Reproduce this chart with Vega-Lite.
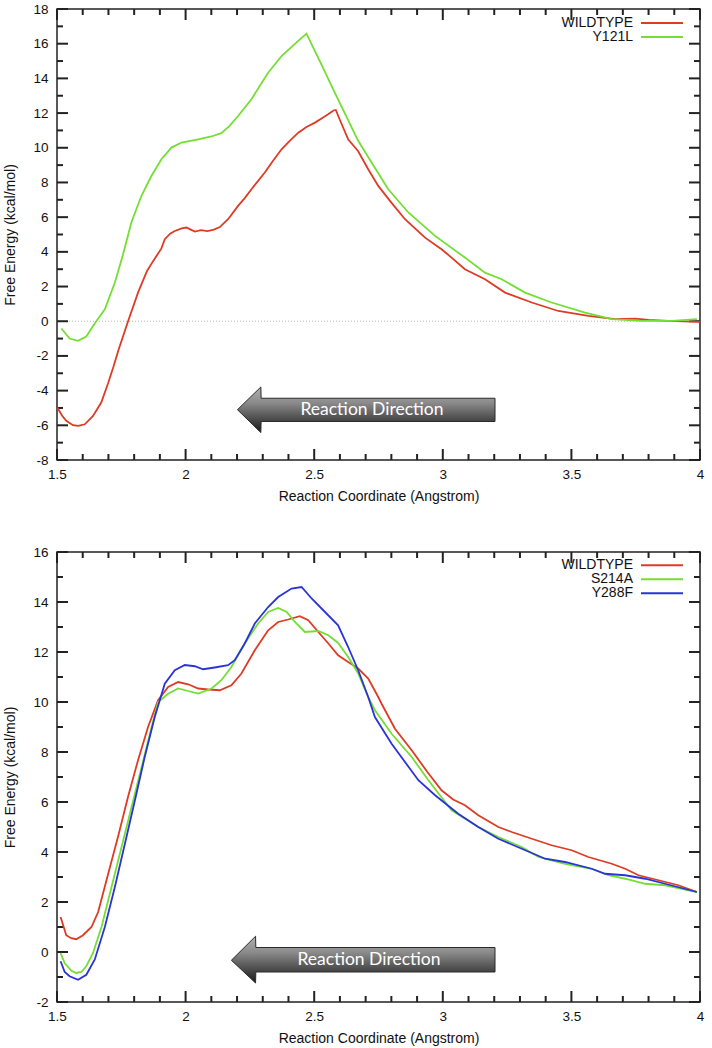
{
  "$schema": "https://vega.github.io/schema/vega-lite/v6.json",
  "background": "white",
  "padding": {"left": 3, "top": 1, "right": 5, "bottom": 2},
  "spacing": 39,
  "config": {
    "font": "Liberation Sans",
    "view": {"stroke": "#222", "strokeWidth": 1.5},
    "rule": {"color": "#222", "strokeWidth": 2, "opacity": 1},
    "axis": {
      "grid": false,
      "domain": false,
      "ticks": false,
      "labelFont": "Liberation Sans",
      "labelFontSize": 13.5,
      "labelColor": "#111",
      "labelOverlap": false,
      "labelFlush": false,
      "labelBound": false,
      "titleFont": "Liberation Sans",
      "titleFontSize": 14,
      "titleFontWeight": "normal",
      "titleColor": "#111"
    }
  },
  "datasets": {
    "xmaj": [{"v":1.5},{"v":2},{"v":2.5},{"v":3},{"v":3.5},{"v":4}],
    "xmin": [{"v":1.6},{"v":1.7},{"v":1.8},{"v":1.9},{"v":2.1},{"v":2.2},{"v":2.3},{"v":2.4},{"v":2.6},{"v":2.7},{"v":2.8},{"v":2.9},{"v":3.1},{"v":3.2},{"v":3.3},{"v":3.4},{"v":3.6},{"v":3.7},{"v":3.8},{"v":3.9}],
    "ymaj1": [{"v":-8},{"v":-6},{"v":-4},{"v":-2},{"v":0},{"v":2},{"v":4},{"v":6},{"v":8},{"v":10},{"v":12},{"v":14},{"v":16},{"v":18}],
    "ymin1": [{"v":-7},{"v":-5},{"v":-3},{"v":-1},{"v":1},{"v":3},{"v":5},{"v":7},{"v":9},{"v":11},{"v":13},{"v":15},{"v":17}],
    "ymaj2": [{"v":-2},{"v":0},{"v":2},{"v":4},{"v":6},{"v":8},{"v":10},{"v":12},{"v":14},{"v":16}],
    "ymin2": [{"v":-1},{"v":1},{"v":3},{"v":5},{"v":7},{"v":9},{"v":11},{"v":13},{"v":15}],
    "top": [
      {"s":"WILDTYPE","x":1.501,"y":-4.97},{"s":"WILDTYPE","x":1.520,"y":-5.45},{"s":"WILDTYPE","x":1.536,"y":-5.74},{"s":"WILDTYPE","x":1.562,"y":-5.99},{"s":"WILDTYPE","x":1.582,"y":-6.03},{"s":"WILDTYPE","x":1.608,"y":-5.94},{"s":"WILDTYPE","x":1.640,"y":-5.46},{"s":"WILDTYPE","x":1.672,"y":-4.69},{"s":"WILDTYPE","x":1.698,"y":-3.60},{"s":"WILDTYPE","x":1.720,"y":-2.60},{"s":"WILDTYPE","x":1.740,"y":-1.61},{"s":"WILDTYPE","x":1.776,"y":-0.02},{"s":"WILDTYPE","x":1.815,"y":1.65},{"s":"WILDTYPE","x":1.850,"y":2.90},{"s":"WILDTYPE","x":1.873,"y":3.45},{"s":"WILDTYPE","x":1.906,"y":4.20},{"s":"WILDTYPE","x":1.919,"y":4.73},{"s":"WILDTYPE","x":1.940,"y":5.05},{"s":"WILDTYPE","x":1.958,"y":5.20},{"s":"WILDTYPE","x":1.985,"y":5.35},{"s":"WILDTYPE","x":2.003,"y":5.40},{"s":"WILDTYPE","x":2.020,"y":5.28},{"s":"WILDTYPE","x":2.036,"y":5.17},{"s":"WILDTYPE","x":2.060,"y":5.25},{"s":"WILDTYPE","x":2.085,"y":5.20},{"s":"WILDTYPE","x":2.110,"y":5.28},{"s":"WILDTYPE","x":2.133,"y":5.43},{"s":"WILDTYPE","x":2.165,"y":5.88},{"s":"WILDTYPE","x":2.204,"y":6.65},{"s":"WILDTYPE","x":2.230,"y":7.10},{"s":"WILDTYPE","x":2.256,"y":7.61},{"s":"WILDTYPE","x":2.308,"y":8.57},{"s":"WILDTYPE","x":2.340,"y":9.25},{"s":"WILDTYPE","x":2.373,"y":9.91},{"s":"WILDTYPE","x":2.405,"y":10.40},{"s":"WILDTYPE","x":2.438,"y":10.87},{"s":"WILDTYPE","x":2.470,"y":11.20},{"s":"WILDTYPE","x":2.503,"y":11.45},{"s":"WILDTYPE","x":2.530,"y":11.70},{"s":"WILDTYPE","x":2.554,"y":11.93},{"s":"WILDTYPE","x":2.575,"y":12.15},{"s":"WILDTYPE","x":2.584,"y":12.18},{"s":"WILDTYPE","x":2.600,"y":11.60},{"s":"WILDTYPE","x":2.632,"y":10.49},{"s":"WILDTYPE","x":2.671,"y":9.80},{"s":"WILDTYPE","x":2.710,"y":8.76},{"s":"WILDTYPE","x":2.749,"y":7.80},{"s":"WILDTYPE","x":2.800,"y":6.84},{"s":"WILDTYPE","x":2.853,"y":5.88},{"s":"WILDTYPE","x":2.931,"y":4.82},{"s":"WILDTYPE","x":2.995,"y":4.15},{"s":"WILDTYPE","x":3.034,"y":3.67},{"s":"WILDTYPE","x":3.086,"y":3.00},{"s":"WILDTYPE","x":3.164,"y":2.42},{"s":"WILDTYPE","x":3.242,"y":1.65},{"s":"WILDTYPE","x":3.346,"y":1.08},{"s":"WILDTYPE","x":3.449,"y":0.59},{"s":"WILDTYPE","x":3.566,"y":0.31},{"s":"WILDTYPE","x":3.670,"y":0.12},{"s":"WILDTYPE","x":3.748,"y":0.15},{"s":"WILDTYPE","x":3.800,"y":0.08},{"s":"WILDTYPE","x":3.877,"y":0.02},{"s":"WILDTYPE","x":4.000,"y":-0.04},
      {"s":"Y121L","x":1.517,"y":-0.42},{"s":"Y121L","x":1.549,"y":-1.00},{"s":"Y121L","x":1.582,"y":-1.13},{"s":"Y121L","x":1.614,"y":-0.88},{"s":"Y121L","x":1.647,"y":-0.12},{"s":"Y121L","x":1.686,"y":0.69},{"s":"Y121L","x":1.725,"y":2.23},{"s":"Y121L","x":1.757,"y":3.86},{"s":"Y121L","x":1.789,"y":5.69},{"s":"Y121L","x":1.828,"y":7.22},{"s":"Y121L","x":1.867,"y":8.37},{"s":"Y121L","x":1.906,"y":9.34},{"s":"Y121L","x":1.945,"y":10.01},{"s":"Y121L","x":1.984,"y":10.30},{"s":"Y121L","x":2.049,"y":10.49},{"s":"Y121L","x":2.100,"y":10.65},{"s":"Y121L","x":2.139,"y":10.84},{"s":"Y121L","x":2.170,"y":11.25},{"s":"Y121L","x":2.204,"y":11.83},{"s":"Y121L","x":2.256,"y":12.80},{"s":"Y121L","x":2.290,"y":13.60},{"s":"Y121L","x":2.321,"y":14.33},{"s":"Y121L","x":2.373,"y":15.29},{"s":"Y121L","x":2.438,"y":16.16},{"s":"Y121L","x":2.470,"y":16.58},{"s":"Y121L","x":2.525,"y":14.90},{"s":"Y121L","x":2.580,"y":13.18},{"s":"Y121L","x":2.671,"y":10.40},{"s":"Y121L","x":2.723,"y":9.15},{"s":"Y121L","x":2.788,"y":7.61},{"s":"Y121L","x":2.866,"y":6.27},{"s":"Y121L","x":2.970,"y":4.92},{"s":"Y121L","x":3.086,"y":3.67},{"s":"Y121L","x":3.164,"y":2.80},{"s":"Y121L","x":3.229,"y":2.42},{"s":"Y121L","x":3.320,"y":1.65},{"s":"Y121L","x":3.423,"y":1.08},{"s":"Y121L","x":3.553,"y":0.50},{"s":"Y121L","x":3.657,"y":0.12},{"s":"Y121L","x":3.774,"y":0.02},{"s":"Y121L","x":3.891,"y":0.02},{"s":"Y121L","x":3.988,"y":0.12}
    ],
    "bot": [
      {"s":"WILDTYPE","x":1.514,"y":1.40},{"s":"WILDTYPE","x":1.536,"y":0.67},{"s":"WILDTYPE","x":1.555,"y":0.55},{"s":"WILDTYPE","x":1.575,"y":0.51},{"s":"WILDTYPE","x":1.601,"y":0.67},{"s":"WILDTYPE","x":1.634,"y":1.00},{"s":"WILDTYPE","x":1.660,"y":1.60},{"s":"WILDTYPE","x":1.699,"y":3.13},{"s":"WILDTYPE","x":1.737,"y":4.60},{"s":"WILDTYPE","x":1.776,"y":6.20},{"s":"WILDTYPE","x":1.815,"y":7.67},{"s":"WILDTYPE","x":1.854,"y":9.00},{"s":"WILDTYPE","x":1.893,"y":10.07},{"s":"WILDTYPE","x":1.932,"y":10.60},{"s":"WILDTYPE","x":1.971,"y":10.80},{"s":"WILDTYPE","x":2.010,"y":10.71},{"s":"WILDTYPE","x":2.049,"y":10.54},{"s":"WILDTYPE","x":2.088,"y":10.50},{"s":"WILDTYPE","x":2.133,"y":10.47},{"s":"WILDTYPE","x":2.178,"y":10.67},{"s":"WILDTYPE","x":2.217,"y":11.14},{"s":"WILDTYPE","x":2.269,"y":12.07},{"s":"WILDTYPE","x":2.321,"y":12.87},{"s":"WILDTYPE","x":2.360,"y":13.20},{"s":"WILDTYPE","x":2.399,"y":13.30},{"s":"WILDTYPE","x":2.444,"y":13.43},{"s":"WILDTYPE","x":2.477,"y":13.27},{"s":"WILDTYPE","x":2.516,"y":12.80},{"s":"WILDTYPE","x":2.555,"y":12.34},{"s":"WILDTYPE","x":2.593,"y":11.87},{"s":"WILDTYPE","x":2.632,"y":11.60},{"s":"WILDTYPE","x":2.671,"y":11.34},{"s":"WILDTYPE","x":2.710,"y":10.94},{"s":"WILDTYPE","x":2.749,"y":10.20},{"s":"WILDTYPE","x":2.762,"y":9.93},{"s":"WILDTYPE","x":2.814,"y":8.93},{"s":"WILDTYPE","x":2.879,"y":8.07},{"s":"WILDTYPE","x":2.940,"y":7.20},{"s":"WILDTYPE","x":2.995,"y":6.47},{"s":"WILDTYPE","x":3.040,"y":6.10},{"s":"WILDTYPE","x":3.086,"y":5.87},{"s":"WILDTYPE","x":3.138,"y":5.47},{"s":"WILDTYPE","x":3.216,"y":5.00},{"s":"WILDTYPE","x":3.268,"y":4.80},{"s":"WILDTYPE","x":3.346,"y":4.53},{"s":"WILDTYPE","x":3.423,"y":4.27},{"s":"WILDTYPE","x":3.501,"y":4.07},{"s":"WILDTYPE","x":3.566,"y":3.80},{"s":"WILDTYPE","x":3.657,"y":3.53},{"s":"WILDTYPE","x":3.709,"y":3.33},{"s":"WILDTYPE","x":3.761,"y":3.07},{"s":"WILDTYPE","x":3.839,"y":2.87},{"s":"WILDTYPE","x":3.916,"y":2.67},{"s":"WILDTYPE","x":3.988,"y":2.40},
      {"s":"S214A","x":1.514,"y":-0.04},{"s":"S214A","x":1.530,"y":-0.45},{"s":"S214A","x":1.556,"y":-0.75},{"s":"S214A","x":1.575,"y":-0.84},{"s":"S214A","x":1.595,"y":-0.80},{"s":"S214A","x":1.615,"y":-0.55},{"s":"S214A","x":1.640,"y":-0.04},{"s":"S214A","x":1.673,"y":1.00},{"s":"S214A","x":1.712,"y":2.60},{"s":"S214A","x":1.751,"y":4.20},{"s":"S214A","x":1.790,"y":5.80},{"s":"S214A","x":1.829,"y":7.40},{"s":"S214A","x":1.868,"y":9.00},{"s":"S214A","x":1.893,"y":10.00},{"s":"S214A","x":1.932,"y":10.33},{"s":"S214A","x":1.971,"y":10.54},{"s":"S214A","x":2.010,"y":10.44},{"s":"S214A","x":2.049,"y":10.34},{"s":"S214A","x":2.101,"y":10.54},{"s":"S214A","x":2.139,"y":10.87},{"s":"S214A","x":2.178,"y":11.40},{"s":"S214A","x":2.230,"y":12.34},{"s":"S214A","x":2.282,"y":13.14},{"s":"S214A","x":2.321,"y":13.60},{"s":"S214A","x":2.360,"y":13.76},{"s":"S214A","x":2.393,"y":13.60},{"s":"S214A","x":2.425,"y":13.20},{"s":"S214A","x":2.464,"y":12.80},{"s":"S214A","x":2.516,"y":12.84},{"s":"S214A","x":2.555,"y":12.67},{"s":"S214A","x":2.593,"y":12.36},{"s":"S214A","x":2.632,"y":11.80},{"s":"S214A","x":2.671,"y":11.14},{"s":"S214A","x":2.710,"y":10.20},{"s":"S214A","x":2.736,"y":9.67},{"s":"S214A","x":2.801,"y":8.73},{"s":"S214A","x":2.879,"y":7.80},{"s":"S214A","x":2.944,"y":6.87},{"s":"S214A","x":3.034,"y":5.67},{"s":"S214A","x":3.138,"y":5.00},{"s":"S214A","x":3.216,"y":4.60},{"s":"S214A","x":3.307,"y":4.20},{"s":"S214A","x":3.372,"y":3.80},{"s":"S214A","x":3.475,"y":3.53},{"s":"S214A","x":3.579,"y":3.33},{"s":"S214A","x":3.644,"y":3.07},{"s":"S214A","x":3.709,"y":2.93},{"s":"S214A","x":3.787,"y":2.73},{"s":"S214A","x":3.864,"y":2.67},{"s":"S214A","x":3.988,"y":2.40},
      {"s":"Y288F","x":1.514,"y":-0.37},{"s":"Y288F","x":1.530,"y":-0.80},{"s":"Y288F","x":1.549,"y":-0.97},{"s":"Y288F","x":1.582,"y":-1.11},{"s":"Y288F","x":1.614,"y":-0.91},{"s":"Y288F","x":1.647,"y":-0.30},{"s":"Y288F","x":1.686,"y":1.00},{"s":"Y288F","x":1.725,"y":2.60},{"s":"Y288F","x":1.764,"y":4.33},{"s":"Y288F","x":1.803,"y":6.07},{"s":"Y288F","x":1.841,"y":7.80},{"s":"Y288F","x":1.880,"y":9.40},{"s":"Y288F","x":1.919,"y":10.73},{"s":"Y288F","x":1.958,"y":11.27},{"s":"Y288F","x":1.997,"y":11.48},{"s":"Y288F","x":2.036,"y":11.43},{"s":"Y288F","x":2.068,"y":11.31},{"s":"Y288F","x":2.113,"y":11.38},{"s":"Y288F","x":2.165,"y":11.47},{"s":"Y288F","x":2.191,"y":11.67},{"s":"Y288F","x":2.230,"y":12.34},{"s":"Y288F","x":2.269,"y":13.14},{"s":"Y288F","x":2.321,"y":13.80},{"s":"Y288F","x":2.360,"y":14.20},{"s":"Y288F","x":2.412,"y":14.54},{"s":"Y288F","x":2.451,"y":14.60},{"s":"Y288F","x":2.490,"y":14.14},{"s":"Y288F","x":2.542,"y":13.60},{"s":"Y288F","x":2.593,"y":13.07},{"s":"Y288F","x":2.632,"y":12.20},{"s":"Y288F","x":2.671,"y":11.27},{"s":"Y288F","x":2.710,"y":10.20},{"s":"Y288F","x":2.736,"y":9.40},{"s":"Y288F","x":2.801,"y":8.33},{"s":"Y288F","x":2.905,"y":6.87},{"s":"Y288F","x":2.970,"y":6.27},{"s":"Y288F","x":3.060,"y":5.53},{"s":"Y288F","x":3.138,"y":5.00},{"s":"Y288F","x":3.216,"y":4.53},{"s":"Y288F","x":3.307,"y":4.13},{"s":"Y288F","x":3.398,"y":3.73},{"s":"Y288F","x":3.475,"y":3.60},{"s":"Y288F","x":3.579,"y":3.33},{"s":"Y288F","x":3.631,"y":3.13},{"s":"Y288F","x":3.709,"y":3.07},{"s":"Y288F","x":3.787,"y":2.93},{"s":"Y288F","x":3.864,"y":2.73},{"s":"Y288F","x":3.988,"y":2.40}
    ]
  },
  "resolve": {"scale": {"color": "independent"}, "legend": {"color": "independent"}},
  "vconcat": [
    {
      "width": 643,
      "height": 451,
      "resolve": {"axis": {"x": "independent", "y": "independent"}},
      "layer": [
        {"data": {"values": [{"z": 0}]}, "mark": {"type": "rule", "color": "#b8b8b8", "strokeDash": [1, 2], "strokeWidth": 1},
         "encoding": {"y": {"field": "z", "type": "quantitative", "scale": {"domain": [-8, 18], "nice": false, "zero": false}, "axis": null}}},
        {"data": {"name": "xmaj"}, "mark": {"type": "rule", "color": "#222", "strokeWidth": 2},
         "encoding": {"x": {"field": "v", "type": "quantitative", "scale": {"domain": [1.5, 4], "nice": false, "zero": false}, "axis": null},
           "y": {"datum": -8, "type": "quantitative", "scale": {"domain": [-8, 18], "nice": false, "zero": false}, "axis": null}, "y2": {"datum": -7.366}}},
        {"data": {"name": "xmin"}, "mark": {"type": "rule", "color": "#222", "strokeWidth": 2},
         "encoding": {"x": {"field": "v", "type": "quantitative", "scale": {"domain": [1.5, 4], "nice": false, "zero": false}, "axis": null},
           "y": {"datum": -8, "type": "quantitative", "scale": {"domain": [-8, 18], "nice": false, "zero": false}, "axis": null}, "y2": {"datum": -7.654}}},
        {"data": {"name": "xmaj"}, "mark": {"type": "rule", "color": "#222", "strokeWidth": 2},
         "encoding": {"x": {"field": "v", "type": "quantitative", "scale": {"domain": [1.5, 4], "nice": false, "zero": false}, "axis": null},
           "y": {"datum": 18, "type": "quantitative", "scale": {"domain": [-8, 18], "nice": false, "zero": false}, "axis": null}, "y2": {"datum": 17.366}}},
        {"data": {"name": "xmin"}, "mark": {"type": "rule", "color": "#222", "strokeWidth": 2},
         "encoding": {"x": {"field": "v", "type": "quantitative", "scale": {"domain": [1.5, 4], "nice": false, "zero": false}, "axis": null},
           "y": {"datum": 18, "type": "quantitative", "scale": {"domain": [-8, 18], "nice": false, "zero": false}, "axis": null}, "y2": {"datum": 17.654}}},
        {"data": {"name": "ymaj1"}, "mark": {"type": "rule", "color": "#222", "strokeWidth": 2},
         "encoding": {"y": {"field": "v", "type": "quantitative", "scale": {"domain": [-8, 18], "nice": false, "zero": false}, "axis": null},
           "x": {"datum": 1.5, "type": "quantitative", "scale": {"domain": [1.5, 4], "nice": false, "zero": false}, "axis": null}, "x2": {"datum": 1.5428}}},
        {"data": {"name": "ymin1"}, "mark": {"type": "rule", "color": "#222", "strokeWidth": 2},
         "encoding": {"y": {"field": "v", "type": "quantitative", "scale": {"domain": [-8, 18], "nice": false, "zero": false}, "axis": null},
           "x": {"datum": 1.5, "type": "quantitative", "scale": {"domain": [1.5, 4], "nice": false, "zero": false}, "axis": null}, "x2": {"datum": 1.5233}}},
        {"data": {"name": "ymaj1"}, "mark": {"type": "rule", "color": "#222", "strokeWidth": 2},
         "encoding": {"y": {"field": "v", "type": "quantitative", "scale": {"domain": [-8, 18], "nice": false, "zero": false}, "axis": null},
           "x": {"datum": 4, "type": "quantitative", "scale": {"domain": [1.5, 4], "nice": false, "zero": false}, "axis": null}, "x2": {"datum": 3.9572}}},
        {"data": {"name": "ymin1"}, "mark": {"type": "rule", "color": "#222", "strokeWidth": 2},
         "encoding": {"y": {"field": "v", "type": "quantitative", "scale": {"domain": [-8, 18], "nice": false, "zero": false}, "axis": null},
           "x": {"datum": 4, "type": "quantitative", "scale": {"domain": [1.5, 4], "nice": false, "zero": false}, "axis": null}, "x2": {"datum": 3.9767}}},
        {
          "data": {"values": [
            {"ax": 2.2016, "ay": -5.10, "ay2": -5.10},
            {"ax": 2.2926, "ay": -3.79, "ay2": -6.42},
            {"ax": 2.2936, "ay": -4.44, "ay2": -5.78},
            {"ax": 3.203, "ay": -4.44, "ay2": -5.78}
          ]},
          "mark": {
            "type": "area", "stroke": "#2a2a2a", "strokeWidth": 1, "fillOpacity": 1,
            "fill": {"gradient": "linear", "x1": 0, "y1": 0, "x2": 0, "y2": 1,
              "stops": [{"offset": 0, "color": "#b0b0b0"}, {"offset": 0.35, "color": "#8a8a8a"}, {"offset": 0.65, "color": "#555555"}, {"offset": 1, "color": "#1a1a1a"}]}
          },
          "encoding": {
            "x": {"field": "ax", "type": "quantitative", "scale": {"domain": [1.5, 4], "nice": false, "zero": false}, "axis": null},
            "y": {"field": "ay", "type": "quantitative", "scale": {"domain": [-8, 18], "nice": false, "zero": false}, "axis": null},
            "y2": {"field": "ay2"}
          }
        },
        {
          "data": {"values": [{"label": "Reaction Direction", "tx": 2.7245, "ty": -5.10}]},
          "mark": {"type": "text", "font": "Lato", "fontSize": 17.5, "color": "white", "align": "center", "baseline": "middle"},
          "encoding": {
            "x": {"field": "tx", "type": "quantitative", "scale": {"domain": [1.5, 4], "nice": false, "zero": false}, "axis": null},
            "y": {"field": "ty", "type": "quantitative", "scale": {"domain": [-8, 18], "nice": false, "zero": false}, "axis": null},
            "text": {"field": "label"}
          }
        },
        {
          "data": {"name": "top"},
          "mark": {"type": "line", "strokeWidth": 1.8},
          "encoding": {
            "x": {"field": "x", "type": "quantitative", "scale": {"domain": [1.5, 4], "nice": false, "zero": false},
              "axis": {"orient": "bottom", "values": [1.5,2,2.5,3,3.5,4],
                "labelExpr": "''+datum.value", "labelPadding": 7, "title": "Reaction Coordinate (Angstrom)", "titlePadding": 9}},
            "y": {"field": "y", "type": "quantitative", "scale": {"domain": [-8, 18], "nice": false, "zero": false},
              "axis": {"orient": "left", "values": [-8,-6,-4,-2,0,2,4,6,8,10,12,14,16,18],
                "labelExpr": "''+datum.value", "labelPadding": 9, "title": "Free Energy (kcal/mol)", "titlePadding": 15}},
            "color": {"field": "s", "type": "nominal",
              "scale": {"domain": ["WILDTYPE", "Y121L"], "range": ["#de3b24", "#74de34"]},
              "legend": {"orient": "none", "legendX": 598, "legendY": 7, "title": null,
                "symbolType": "M-3.5,0H3.5", "symbolSize": 144, "symbolStrokeWidth": 2,
                "labelAlign": "right", "labelOffset": -36, "labelFont": "Liberation Sans", "labelFontSize": 14, "labelColor": "#111",
                "rowPadding": 0, "padding": 0}}
          }
        }
      ]
    },
    {
      "width": 643,
      "height": 450,
      "resolve": {"axis": {"x": "independent", "y": "independent"}},
      "layer": [
        {"data": {"name": "xmaj"}, "mark": {"type": "rule", "color": "#222", "strokeWidth": 2},
         "encoding": {"x": {"field": "v", "type": "quantitative", "scale": {"domain": [1.5, 4], "nice": false, "zero": false}, "axis": null},
           "y": {"datum": -2, "type": "quantitative", "scale": {"domain": [-2, 16], "nice": false, "zero": false}, "axis": null}, "y2": {"datum": -1.56}}},
        {"data": {"name": "xmin"}, "mark": {"type": "rule", "color": "#222", "strokeWidth": 2},
         "encoding": {"x": {"field": "v", "type": "quantitative", "scale": {"domain": [1.5, 4], "nice": false, "zero": false}, "axis": null},
           "y": {"datum": -2, "type": "quantitative", "scale": {"domain": [-2, 16], "nice": false, "zero": false}, "axis": null}, "y2": {"datum": -1.76}}},
        {"data": {"name": "xmaj"}, "mark": {"type": "rule", "color": "#222", "strokeWidth": 2},
         "encoding": {"x": {"field": "v", "type": "quantitative", "scale": {"domain": [1.5, 4], "nice": false, "zero": false}, "axis": null},
           "y": {"datum": 16, "type": "quantitative", "scale": {"domain": [-2, 16], "nice": false, "zero": false}, "axis": null}, "y2": {"datum": 15.56}}},
        {"data": {"name": "xmin"}, "mark": {"type": "rule", "color": "#222", "strokeWidth": 2},
         "encoding": {"x": {"field": "v", "type": "quantitative", "scale": {"domain": [1.5, 4], "nice": false, "zero": false}, "axis": null},
           "y": {"datum": 16, "type": "quantitative", "scale": {"domain": [-2, 16], "nice": false, "zero": false}, "axis": null}, "y2": {"datum": 15.76}}},
        {"data": {"name": "ymaj2"}, "mark": {"type": "rule", "color": "#222", "strokeWidth": 2},
         "encoding": {"y": {"field": "v", "type": "quantitative", "scale": {"domain": [-2, 16], "nice": false, "zero": false}, "axis": null},
           "x": {"datum": 1.5, "type": "quantitative", "scale": {"domain": [1.5, 4], "nice": false, "zero": false}, "axis": null}, "x2": {"datum": 1.5428}}},
        {"data": {"name": "ymin2"}, "mark": {"type": "rule", "color": "#222", "strokeWidth": 2},
         "encoding": {"y": {"field": "v", "type": "quantitative", "scale": {"domain": [-2, 16], "nice": false, "zero": false}, "axis": null},
           "x": {"datum": 1.5, "type": "quantitative", "scale": {"domain": [1.5, 4], "nice": false, "zero": false}, "axis": null}, "x2": {"datum": 1.5233}}},
        {"data": {"name": "ymaj2"}, "mark": {"type": "rule", "color": "#222", "strokeWidth": 2},
         "encoding": {"y": {"field": "v", "type": "quantitative", "scale": {"domain": [-2, 16], "nice": false, "zero": false}, "axis": null},
           "x": {"datum": 4, "type": "quantitative", "scale": {"domain": [1.5, 4], "nice": false, "zero": false}, "axis": null}, "x2": {"datum": 3.9572}}},
        {"data": {"name": "ymin2"}, "mark": {"type": "rule", "color": "#222", "strokeWidth": 2},
         "encoding": {"y": {"field": "v", "type": "quantitative", "scale": {"domain": [-2, 16], "nice": false, "zero": false}, "axis": null},
           "x": {"datum": 4, "type": "quantitative", "scale": {"domain": [1.5, 4], "nice": false, "zero": false}, "axis": null}, "x2": {"datum": 3.9767}}},
        {
          "data": {"values": [
            {"ax": 2.178, "ay": -0.33, "ay2": -0.33},
            {"ax": 2.272, "ay": 0.63, "ay2": -1.24},
            {"ax": 2.273, "ay": 0.18, "ay2": -0.80},
            {"ax": 3.203, "ay": 0.18, "ay2": -0.80}
          ]},
          "mark": {
            "type": "area", "stroke": "#2a2a2a", "strokeWidth": 1, "fillOpacity": 1,
            "fill": {"gradient": "linear", "x1": 0, "y1": 0, "x2": 0, "y2": 1,
              "stops": [{"offset": 0, "color": "#b0b0b0"}, {"offset": 0.35, "color": "#8a8a8a"}, {"offset": 0.65, "color": "#555555"}, {"offset": 1, "color": "#1a1a1a"}]}
          },
          "encoding": {
            "x": {"field": "ax", "type": "quantitative", "scale": {"domain": [1.5, 4], "nice": false, "zero": false}, "axis": null},
            "y": {"field": "ay", "type": "quantitative", "scale": {"domain": [-2, 16], "nice": false, "zero": false}, "axis": null},
            "y2": {"field": "ay2"}
          }
        },
        {
          "data": {"values": [{"label": "Reaction Direction", "tx": 2.713, "ty": -0.33}]},
          "mark": {"type": "text", "font": "Lato", "fontSize": 17.5, "color": "white", "align": "center", "baseline": "middle"},
          "encoding": {
            "x": {"field": "tx", "type": "quantitative", "scale": {"domain": [1.5, 4], "nice": false, "zero": false}, "axis": null},
            "y": {"field": "ty", "type": "quantitative", "scale": {"domain": [-2, 16], "nice": false, "zero": false}, "axis": null},
            "text": {"field": "label"}
          }
        },
        {
          "data": {"name": "bot"},
          "mark": {"type": "line", "strokeWidth": 1.8},
          "encoding": {
            "x": {"field": "x", "type": "quantitative", "scale": {"domain": [1.5, 4], "nice": false, "zero": false},
              "axis": {"orient": "bottom", "values": [1.5,2,2.5,3,3.5,4],
                "labelExpr": "''+datum.value", "labelPadding": 7, "title": "Reaction Coordinate (Angstrom)", "titlePadding": 9}},
            "y": {"field": "y", "type": "quantitative", "scale": {"domain": [-2, 16], "nice": false, "zero": false},
              "axis": {"orient": "left", "values": [-2,0,2,4,6,8,10,12,14,16],
                "labelExpr": "''+datum.value", "labelPadding": 9, "title": "Free Energy (kcal/mol)", "titlePadding": 15}},
            "color": {"field": "s", "type": "nominal",
              "scale": {"domain": ["WILDTYPE", "S214A", "Y288F"], "range": ["#de3b24", "#74de34", "#2a34d6"]},
              "legend": {"orient": "none", "legendX": 598, "legendY": 6.3, "title": null,
                "symbolType": "M-3.5,0H3.5", "symbolSize": 144, "symbolStrokeWidth": 2,
                "labelAlign": "right", "labelOffset": -36, "labelFont": "Liberation Sans", "labelFontSize": 14, "labelColor": "#111",
                "rowPadding": 0, "padding": 0}}
          }
        }
      ]
    }
  ]
}
